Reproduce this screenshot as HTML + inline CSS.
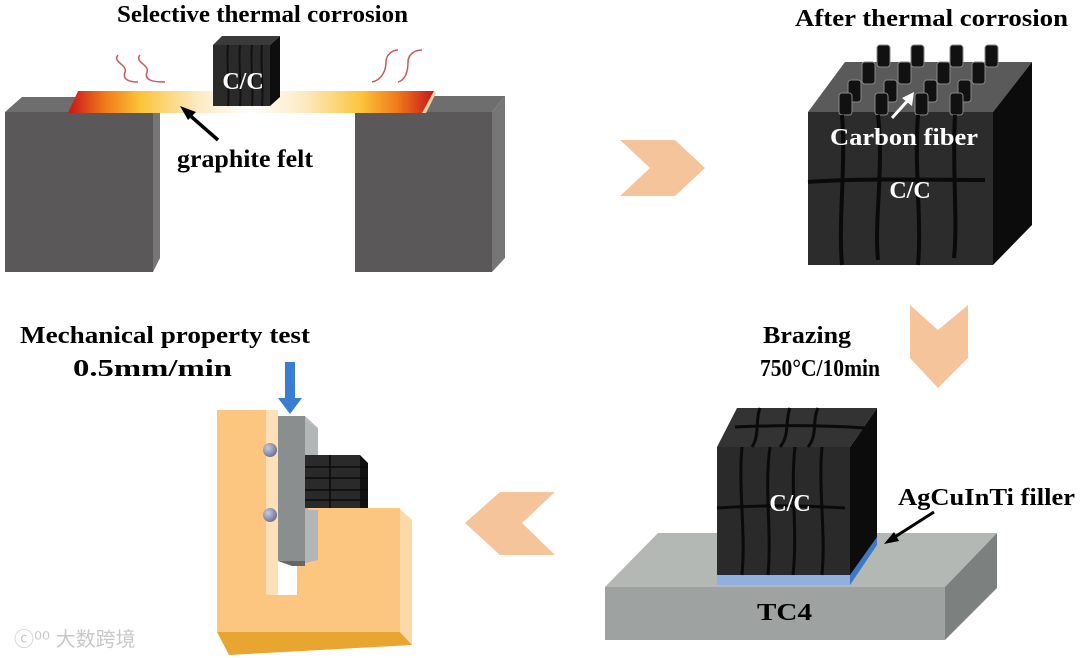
<!DOCTYPE html>
<html><head><meta charset="utf-8"><style>
html,body{margin:0;padding:0;background:#fff;}
svg{display:block;}
text{font-family:"Liberation Serif",serif;font-weight:bold;}
</style></head><body>
<svg width="1080" height="658" viewBox="0 0 1080 658" xmlns="http://www.w3.org/2000/svg">
<defs>
<linearGradient id="felt" x1="0" x2="1" y1="0" y2="0">
<stop offset="0" stop-color="#c8141a"/><stop offset="0.1" stop-color="#f07a1a"/><stop offset="0.2" stop-color="#fbc53a"/><stop offset="0.35" stop-color="#fde9c0"/><stop offset="0.5" stop-color="#ffffff"/><stop offset="0.65" stop-color="#fde9c0"/><stop offset="0.8" stop-color="#fbc53a"/><stop offset="0.9" stop-color="#f07a1a"/><stop offset="1" stop-color="#c8141a"/>
</linearGradient>
<radialGradient id="ball" cx="0.35" cy="0.35" r="0.7"><stop offset="0" stop-color="#c8cce0"/><stop offset="1" stop-color="#6a7090"/></radialGradient>
</defs>

<!-- Panel 1 -->
<text x="117" y="22" font-size="24" textLength="291" lengthAdjust="spacingAndGlyphs">Selective thermal corrosion</text>
<polygon points="5,112 22,97 160,97 153,112" fill="#6e6e6e"/>
<rect x="5" y="112" width="148" height="160" fill="#5a5858"/>
<polygon points="153,112 160,97 160,258 153,272" fill="#767676"/>
<polygon points="355,112 363,96 505,96 492,112" fill="#6e6e6e"/>
<rect x="355" y="112" width="137" height="160" fill="#5a5858"/>
<polygon points="492,112 505,96 505,258 492,272" fill="#767676"/>
<polygon points="68,113 78,91 434,91 422,113" fill="url(#felt)"/>
<polygon points="422,113 434,91 436,93 426,113" fill="#f3d1a0"/>
<path d="M118,55 C112,62 128,65 125,72 C122,80 130,82 138,82" stroke="#c75a5a" stroke-width="1.5" fill="none"/>
<path d="M140,55 C134,62 150,65 147,72 C144,80 152,82 165,82" stroke="#c75a5a" stroke-width="1.5" fill="none"/>
<path d="M372,82 C382,80 386,70 386,62 C386,55 392,50 398,50" stroke="#c75a5a" stroke-width="1.5" fill="none"/>
<path d="M398,82 C406,80 408,70 408,62 C408,55 414,50 422,50" stroke="#c75a5a" stroke-width="1.5" fill="none"/>
<polygon points="213,45 222,36 280,36 270,45" fill="#3a3a3a"/>
<rect x="213" y="45" width="57" height="61" fill="#2a2a2a"/>
<polygon points="270,45 280,36 280,97 270,106" fill="#0e0e0e"/>
<g stroke="#111" stroke-width="2" fill="none">
<path d="M228,45 C226,65 230,85 228,106"/><path d="M240,45 C238,65 242,85 240,106"/><path d="M252,45 C250,65 254,85 252,106"/><path d="M262,45 C260,65 264,85 262,106"/>
</g>
<text x="243" y="89" font-size="24" fill="#fff" text-anchor="middle">C/C</text>
<line x1="218" y1="140" x2="186" y2="112" stroke="#000" stroke-width="3.5"/>
<polygon points="180,106 196,112 188,120" fill="#000"/>
<text x="177" y="167" font-size="25" textLength="136" lengthAdjust="spacingAndGlyphs">graphite felt</text>

<!-- Panel 2 -->
<text x="795" y="26" font-size="24" textLength="273" lengthAdjust="spacingAndGlyphs">After thermal corrosion</text>
<polygon points="808,112 845,62 1032,62 993,112" fill="#5a5a5a"/>
<rect x="808" y="112" width="185" height="153" fill="#2c2c2c"/>
<polygon points="993,112 1032,62 1032,225 993,265" fill="#0c0c0c"/>
<g fill="#111" stroke="#888" stroke-width="1">
<rect x="877" y="45" width="13" height="22" rx="3"/><rect x="911" y="45" width="13" height="22" rx="3"/><rect x="950" y="45" width="13" height="22" rx="3"/><rect x="985" y="45" width="13" height="22" rx="3"/>
<rect x="862" y="62" width="13" height="22" rx="3"/><rect x="898" y="62" width="13" height="22" rx="3"/><rect x="937" y="62" width="13" height="22" rx="3"/><rect x="972" y="62" width="13" height="22" rx="3"/>
<rect x="848" y="80" width="13" height="22" rx="3"/><rect x="884" y="80" width="13" height="22" rx="3"/><rect x="924" y="80" width="13" height="22" rx="3"/><rect x="958" y="80" width="13" height="22" rx="3"/>
<rect x="839" y="93" width="13" height="22" rx="3"/><rect x="875" y="93" width="13" height="22" rx="3"/><rect x="915" y="93" width="13" height="22" rx="3"/><rect x="950" y="93" width="13" height="22" rx="3"/>
</g>
<g stroke="#0a0a0a" stroke-width="4" fill="none">
<path d="M842,115 C846,170 838,220 842,265"/><path d="M878,115 C884,170 874,220 878,260"/><path d="M918,115 C914,170 922,220 918,265"/><path d="M955,115 C952,170 958,220 954,258"/>
<path d="M808,182 C860,178 930,180 985,180"/>
</g>
<line x1="892" y1="118" x2="910" y2="98" stroke="#fff" stroke-width="3"/>
<polygon points="914,92 912,106 902,98" fill="#fff"/>
<text x="830" y="145" font-size="24" fill="#fff" textLength="148" lengthAdjust="spacingAndGlyphs">Carbon fiber</text>
<text x="910" y="198" font-size="24" fill="#fff" text-anchor="middle">C/C</text>

<!-- chevrons -->
<polygon points="620,140 675,140 705,168 675,196 620,196 650,168" fill="#f5c49a"/>
<polygon points="910,305 938,330 968,305 968,358 938,388 910,358" fill="#f5c49a"/>
<polygon points="555,492 500,492 465,523 500,555 555,555 522,523" fill="#f5c49a"/>

<!-- Panel 3 -->
<text x="763" y="343" font-size="24" textLength="88" lengthAdjust="spacingAndGlyphs">Brazing</text>
<text x="760" y="376" font-size="24" textLength="120" lengthAdjust="spacingAndGlyphs">750°C/10min</text>
<polygon points="605,587 658,533 997,533 945,587" fill="#b4b8b4"/>
<rect x="605" y="587" width="340" height="53" fill="#9ea2a0"/>
<polygon points="945,587 997,533 997,588 945,640" fill="#7c807e"/>
<text x="757" y="620" font-size="24" textLength="55" lengthAdjust="spacingAndGlyphs">TC4</text>
<rect x="717" y="575" width="133" height="10" fill="#8fb0e0"/>
<polygon points="850,575 877,537 877,545 850,585" fill="#3a78c8"/>
<polygon points="717,447 737,408 877,408 850,447" fill="#333"/>
<rect x="717" y="447" width="133" height="128" fill="#2a2a2a"/>
<polygon points="850,447 877,408 877,537 850,575" fill="#0c0c0c"/>
<g stroke="#0a0a0a" stroke-width="3" fill="none">
<path d="M742,447 C738,490 746,530 742,575"/><path d="M770,447 C764,490 772,530 768,575"/><path d="M795,447 C790,490 798,530 793,575"/><path d="M822,447 C818,490 826,530 822,575"/>
<path d="M717,508 C760,505 800,505 845,508"/>
<path d="M735,427 C780,425 820,425 865,428"/>
<path d="M760,408 C755,420 760,435 752,447"/><path d="M790,408 C785,420 790,435 780,447"/><path d="M818,408 C812,420 818,435 808,447"/>
</g>
<text x="790" y="511" font-size="24" fill="#fff" text-anchor="middle">C/C</text>
<line x1="934" y1="512" x2="890" y2="540" stroke="#000" stroke-width="3"/>
<polygon points="884,544 894,532 899,541" fill="#000"/>
<text x="898" y="505" font-size="24" textLength="177" lengthAdjust="spacingAndGlyphs">AgCuInTi filler</text>

<!-- Panel 4 -->
<text x="20" y="343" font-size="24" textLength="290" lengthAdjust="spacingAndGlyphs">Mechanical property test</text>
<text x="73" y="376" font-size="24" textLength="159" lengthAdjust="spacingAndGlyphs">0.5mm/min</text>
<polygon points="217,410 266,410 276,423 276,598 270,595" fill="#fdd9a8"/>
<polygon points="217,410 266,410 266,595 308,595 308,509 400,509 400,632 217,632" fill="#fcc580"/>
<polygon points="400,509 412,520 412,645 400,632" fill="#fdd9a8"/>
<polygon points="217,632 400,632 412,645 229,655" fill="#e8a530"/>
<rect x="266" y="410" width="42" height="185" fill="#fff"/>
<rect x="266" y="410" width="12" height="185" fill="#fde0b8"/>
<rect x="278" y="410" width="30" height="95" fill="#fff"/>
<rect x="297" y="505" width="11" height="90" fill="#fcc580"/>
<polygon points="278,416 305,416 318,428 318,560 305,563" fill="#b8bcbc"/>
<rect x="278" y="416" width="27" height="145" fill="#8a8e8e"/>
<polygon points="278,561 305,561 305,566 292,566" fill="#666"/>
<polygon points="305,420 318,430 318,560 305,563" fill="#b2b6b6"/>
<rect x="305" y="455" width="55" height="53" fill="#2a2a2a"/>
<polygon points="360,455 368,463 368,508 360,508" fill="#111"/>
<g stroke="#0a0a0a" stroke-width="1.5"><line x1="305" y1="467" x2="368" y2="467"/><line x1="305" y1="478" x2="368" y2="478"/><line x1="305" y1="490" x2="368" y2="490"/><line x1="305" y1="500" x2="368" y2="500"/><line x1="330" y1="455" x2="330" y2="508"/></g>
<rect x="308" y="508" width="92" height="2" fill="#fcc580"/>
<circle cx="270" cy="450" r="7" fill="url(#ball)"/>
<circle cx="270" cy="515" r="7" fill="url(#ball)"/>
<rect x="285" y="362" width="10" height="38" fill="#3a7ed0"/>
<polygon points="278,398 302,398 290,414" fill="#3a7ed0"/>

<text x="14" y="646" font-size="20" fill="#c8c8c8" style="font-family:'Liberation Sans','Noto Sans CJK SC',sans-serif;font-weight:normal">ⓒ⁰⁰ 大数跨境</text>
</svg>
</body></html>
